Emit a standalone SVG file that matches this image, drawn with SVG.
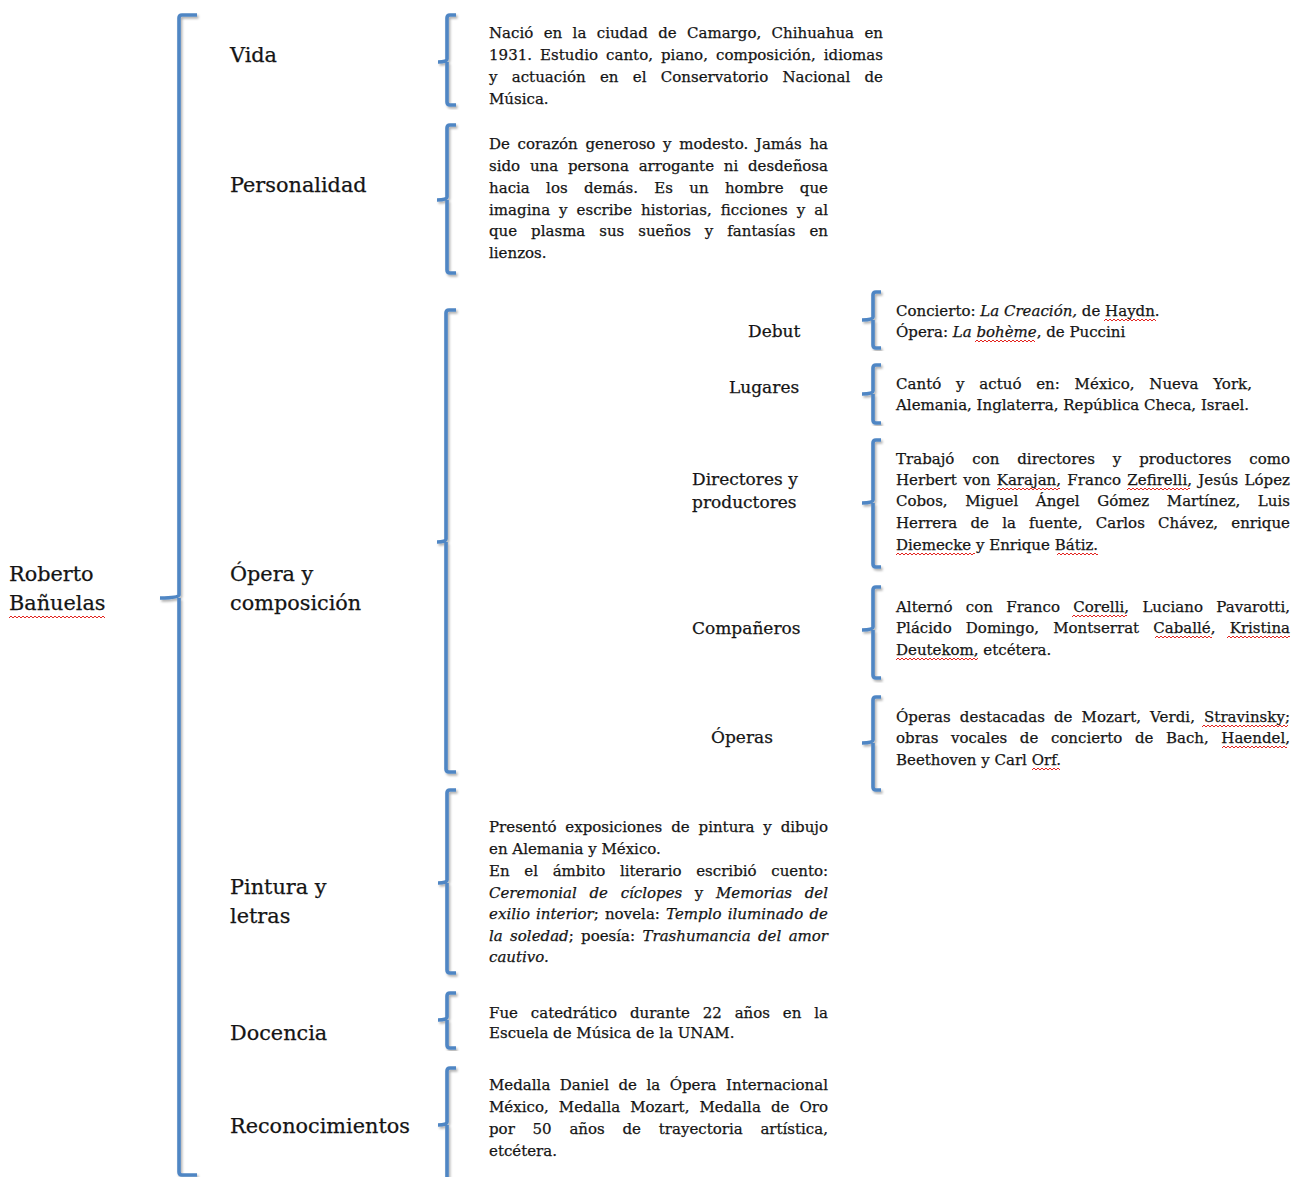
<svg xmlns="http://www.w3.org/2000/svg" width="1302" height="1177" viewBox="0 0 1302 1177">
<style>
text{font-family:"DejaVu Serif","Liberation Serif",serif;fill:#151515;stroke:#151515;stroke-width:0.25}
.lab{font-size:20.8px}
.sub{font-size:17px}
.b{font-size:15px}
.i{font-style:italic}
.br{fill:none;stroke:#4f86c4;stroke-width:3.6;stroke-linecap:butt;stroke-linejoin:round;filter:url(#sh)}
.zz{fill:none;stroke:#e3241f;stroke-width:1}
</style>
<defs>
<filter id="sh" x="-50%" y="-5%" width="200%" height="110%">
<feDropShadow dx="1.5" dy="2" stdDeviation="1" flood-color="#000" flood-opacity="0.3"/>
</filter>
<path id="zz" class="zz" d="M0 3 l2-2 2 2 2-2 2 2 2-2 2 2 2-2 2 2 2-2 2 2 2-2 2 2 2-2 2 2 2-2 2 2 2-2 2 2 2-2 2 2 2-2 2 2 2-2 2 2 2-2 2 2 2-2 2 2 2-2 2 2 2-2 2 2 2-2 2 2 2-2 2 2 2-2 2 2 2-2 2 2 2-2 2 2 2-2 2 2 2-2 2 2 2-2 2 2 2-2 2 2 2-2 2 2 2-2 2 2 2-2 2 2"/>
</defs>
<rect width="1302" height="1177" fill="#fff"/>

<g id="connectors">
<path class="br" d="M197 15 H182 Q179 15 179 18 V595 Q179 598 160 598 M179 598 Q179 598 179 601 V1172 Q179 1175 182 1175 H197"/>
<path class="br" d="M456 15 H450 Q447 15 447 18 V59 Q447 62 438 62 M447 62 V102 Q447 105 450 105 H456"/>
<path class="br" d="M456 125 H450 Q447 125 447 128 V197 Q447 200 437 200 M447 200 V270 Q447 273 450 273 H456"/>
<path class="br" d="M456 310 H449 Q446 310 446 313 V539 Q446 542 437 542 M446 542 V769 Q446 772 449 772 H456"/>
<path class="br" d="M456 790 H450 Q447 790 447 793 V880 Q447 883 438 883 M447 883 V970 Q447 973 450 973 H456"/>
<path class="br" d="M456 993 H450 Q447 993 447 996 V1017 Q447 1020 438 1020 M447 1020 V1045 Q447 1048 450 1048 H456"/>
<path class="br" d="M456 1068 H450 Q447 1068 447 1071 V1122 Q447 1125 438 1125 M447 1125 V1177"/>
<path class="br" d="M881 292 H876 Q873 292 873 295 V317 Q873 320 862 320 M873 320 V345 Q873 348 876 348 H881"/>
<path class="br" d="M881 365 H876 Q873 365 873 368 V391 Q873 394 862 394 M873 394 V420 Q873 423 876 423 H881"/>
<path class="br" d="M881 440 H876 Q873 440 873 443 V500 Q873 503 862 503 M873 503 V564 Q873 567 876 567 H881"/>
<path class="br" d="M881 587 H876 Q873 587 873 590 V627 Q873 630 862 630 M873 630 V675 Q873 678 876 678 H881"/>
<path class="br" d="M881 697 H876 Q873 697 873 700 V740 Q873 743 862 743 M873 743 V787 Q873 790 876 790 H881"/>
</g>

<g id="root"><text class="lab" x="9" y="581">Roberto</text><text class="lab" x="9" y="610">Bañuelas</text></g>

<g id="vida"><text class="lab" x="230" y="62">Vida</text></g>
<g id="vida-detail">
<text class="b" x="489" y="38" style="word-spacing:5.6px" textLength="394" lengthAdjust="spacing">Nació en la ciudad de Camargo, Chihuahua en</text>
<text class="b" x="489" y="60" style="word-spacing:3.2px" textLength="394" lengthAdjust="spacing">1931. Estudio canto, piano, composición, idiomas</text>
<text class="b" x="489" y="82" style="word-spacing:9.5px" textLength="394" lengthAdjust="spacing">y actuación en el Conservatorio Nacional de</text>
<text class="b" x="489" y="104">Música.</text>
</g>

<g id="personalidad"><text class="lab" x="230" y="192">Personalidad</text></g>
<g id="personalidad-detail">
<text class="b" x="489" y="149" style="word-spacing:2.9px" textLength="339" lengthAdjust="spacing">De corazón generoso y modesto. Jamás ha</text>
<text class="b" x="489" y="171" style="word-spacing:5px" textLength="339" lengthAdjust="spacing">sido una persona arrogante ni desdeñosa</text>
<text class="b" x="489" y="193" style="word-spacing:11.5px" textLength="339" lengthAdjust="spacing">hacia los demás. Es un hombre que</text>
<text class="b" x="489" y="215" style="word-spacing:4.2px" textLength="339" lengthAdjust="spacing">imagina y escribe historias, ficciones y al</text>
<text class="b" x="489" y="236" style="word-spacing:9.2px" textLength="339" lengthAdjust="spacing">que plasma sus sueños y fantasías en</text>
<text class="b" x="489" y="258">lienzos.</text>
</g>

<g id="opera"><text class="lab" x="230" y="581">Ópera y</text><text class="lab" x="230" y="610">composición</text></g>

<g id="debut"><text class="sub" x="748" y="337">Debut</text></g>
<g id="debut-detail">
<text class="b" x="896" y="316">Concierto: <tspan class="i">La Creación,</tspan> de Haydn.</text>
<text class="b" x="896" y="337">Ópera: <tspan class="i">La bohème</tspan>, de Puccini</text>
</g>

<g id="lugares"><text class="sub" x="729" y="393">Lugares</text></g>
<g id="lugares-detail">
<text class="b" x="896" y="389" style="word-spacing:9.9px" textLength="356" lengthAdjust="spacing">Cantó y actuó en: México, Nueva York,</text>
<text class="b" x="896" y="410">Alemania, Inglaterra, República Checa, Israel.</text>
</g>

<g id="directores"><text class="sub" x="692" y="485">Directores y</text><text class="sub" x="692" y="508">productores</text></g>
<g id="directores-detail">
<text class="b" x="896" y="464" style="word-spacing:13.1px" textLength="394" lengthAdjust="spacing">Trabajó con directores y productores como</text>
<text class="b" x="896" y="485" style="word-spacing:1.5px" textLength="394" lengthAdjust="spacing">Herbert von Karajan, Franco Zefirelli, Jesús López</text>
<text class="b" x="896" y="506" style="word-spacing:12.8px" textLength="394" lengthAdjust="spacing">Cobos, Miguel Ángel Gómez Martínez, Luis</text>
<text class="b" x="896" y="528" style="word-spacing:8.4px" textLength="394" lengthAdjust="spacing">Herrera de la fuente, Carlos Chávez, enrique</text>
<text class="b" x="896" y="550">Diemecke y Enrique Bátiz.</text>
</g>

<g id="companeros"><text class="sub" x="692" y="634">Compañeros</text></g>
<g id="companeros-detail">
<text class="b" x="896" y="612" style="word-spacing:8.5px" textLength="394" lengthAdjust="spacing">Alternó con Franco Corelli, Luciano Pavarotti,</text>
<text class="b" x="896" y="633" style="word-spacing:9.4px" textLength="394" lengthAdjust="spacing">Plácido Domingo, Montserrat Caballé, Kristina</text>
<text class="b" x="896" y="655">Deutekom, etcétera.</text>
</g>

<g id="operas"><text class="sub" x="711" y="743">Óperas</text></g>
<g id="operas-detail">
<text class="b" x="896" y="722" style="word-spacing:4.3px" textLength="394" lengthAdjust="spacing">Óperas destacadas de Mozart, Verdi, Stravinsky;</text>
<text class="b" x="896" y="743" style="word-spacing:7.8px" textLength="394" lengthAdjust="spacing">obras vocales de concierto de Bach, Haendel,</text>
<text class="b" x="896" y="765">Beethoven y Carl Orf.</text>
</g>

<g id="pintura"><text class="lab" x="230" y="894">Pintura y</text><text class="lab" x="230" y="923">letras</text></g>
<g id="pintura-detail">
<text class="b" x="489" y="832" style="word-spacing:4.1px" textLength="339" lengthAdjust="spacing">Presentó exposiciones de pintura y dibujo</text>
<text class="b" x="489" y="854">en Alemania y México.</text>
<text class="b" x="489" y="876" style="word-spacing:9.9px" textLength="339" lengthAdjust="spacing">En el ámbito literario escribió cuento:</text>
<text class="b" x="489" y="898" style="word-spacing:7.9px" textLength="339" lengthAdjust="spacing"><tspan class="i">Ceremonial de cíclopes</tspan> y <tspan class="i">Memorias del</tspan></text>
<text class="b" x="489" y="919" style="word-spacing:1.3px" textLength="339" lengthAdjust="spacing"><tspan class="i">exilio interior</tspan>; novela: <tspan class="i">Templo iluminado de</tspan></text>
<text class="b" x="489" y="941" style="word-spacing:2.6px" textLength="339" lengthAdjust="spacing"><tspan class="i">la soledad</tspan>; poesía: <tspan class="i">Trashumancia del amor</tspan></text>
<text class="b i" x="489" y="962">cautivo.</text>
</g>

<g id="docencia"><text class="lab" x="230" y="1040">Docencia</text></g>
<g id="docencia-detail">
<text class="b" x="489" y="1018" style="word-spacing:8.1px" textLength="339" lengthAdjust="spacing">Fue catedrático durante 22 años en la</text>
<text class="b" x="489" y="1038">Escuela de Música de la UNAM.</text>
</g>

<g id="reconocimientos"><text class="lab" x="230" y="1133">Reconocimientos</text></g>
<g id="reconocimientos-detail">
<text class="b" x="489" y="1090" style="word-spacing:4.7px" textLength="339" lengthAdjust="spacing">Medalla Daniel de la Ópera Internacional</text>
<text class="b" x="489" y="1112" style="word-spacing:5.3px" textLength="339" lengthAdjust="spacing">México, Medalla Mozart, Medalla de Oro</text>
<text class="b" x="489" y="1134" style="word-spacing:13px" textLength="339" lengthAdjust="spacing">por 50 años de trayectoria artística,</text>
<text class="b" x="489" y="1156">etcétera.</text>
</g>

<g id="spelling-marks">
<svg x="9" y="615" width="96" height="4"><use href="#zz"/></svg>
<svg x="1104" y="318" width="52" height="4"><use href="#zz"/></svg>
<svg x="975" y="339" width="60" height="4"><use href="#zz"/></svg>
<svg x="997" y="487" width="63" height="4"><use href="#zz"/></svg>
<svg x="1127" y="487" width="63" height="4"><use href="#zz"/></svg>
<svg x="896" y="552" width="79" height="4"><use href="#zz"/></svg>
<svg x="1057" y="552" width="41" height="4"><use href="#zz"/></svg>
<svg x="1072" y="614" width="55" height="4"><use href="#zz"/></svg>
<svg x="1155" y="635" width="57" height="4"><use href="#zz"/></svg>
<svg x="1227" y="635" width="63" height="4"><use href="#zz"/></svg>
<svg x="896" y="657" width="82" height="4"><use href="#zz"/></svg>
<svg x="1202" y="724" width="86" height="4"><use href="#zz"/></svg>
<svg x="1222" y="745" width="65" height="4"><use href="#zz"/></svg>
<svg x="1032" y="767" width="28" height="4"><use href="#zz"/></svg>
</g>
</svg>
